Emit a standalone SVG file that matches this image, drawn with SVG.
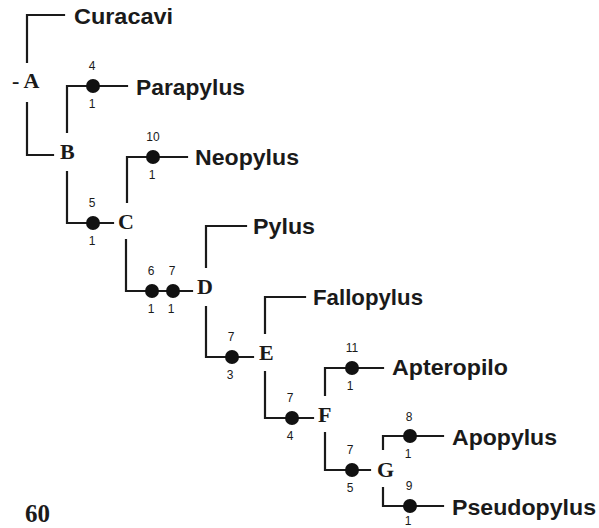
<svg xmlns="http://www.w3.org/2000/svg" width="599" height="528" viewBox="0 0 599 528">
  <style>
    .br { fill: none; stroke: #1a1a1a; stroke-width: 2.2; stroke-linecap: square; }
    .taxon { font-family: "Liberation Sans", Arial, sans-serif; font-weight: bold; font-size: 22px; fill: #1a1a1a; }
    .node { font-family: "Liberation Serif", "Times New Roman", serif; font-weight: bold; font-size: 22px; fill: #1a1a1a; }
    .num { font-family: "Liberation Sans", Arial, sans-serif; font-size: 12px; fill: #1a1a1a; text-anchor: middle; }
    .dot { fill: #111; }
    .page { font-family: "Liberation Serif", "Times New Roman", serif; font-weight: bold; font-size: 25px; fill: #1a1a1a; }
  </style>

  <!-- branches of the cladogram -->
  <g id="connectors">
    <path class="br" d="M27 62 V15 H64"/>
    <path class="br" d="M27 103 V155 H53"/>
    <path class="br" d="M67 132 V86 H127"/>
    <path class="br" d="M67 172 V223 H113"/>
    <path class="br" d="M127 202 V157 H187"/>
    <path class="br" d="M126 240 V291 H192"/>
    <path class="br" d="M206 267 V226 H246"/>
    <path class="br" d="M206 307 V357 H253"/>
    <path class="br" d="M265 333 V297 H305"/>
    <path class="br" d="M265 372 V418 H313"/>
    <path class="br" d="M325 395 V368 H383"/>
    <path class="br" d="M325 433 V470 H370"/>
    <path class="br" d="M383 449 V436 H443"/>
    <path class="br" d="M383 488 V506 H443"/>
  </g>

  <!-- character changes on branches: dot, character above, state below -->
  <g id="changes">
    <g id="chg-parapylus"><circle class="dot" cx="93" cy="86" r="7"/><text class="num" x="92" y="70">4</text><text class="num" x="92" y="108">1</text></g>
    <g id="chg-c"><circle class="dot" cx="93" cy="223" r="7"/><text class="num" x="92" y="207">5</text><text class="num" x="92" y="245">1</text></g>
    <g id="chg-neopylus"><circle class="dot" cx="153" cy="157" r="7"/><text class="num" x="153" y="141">10</text><text class="num" x="152" y="179">1</text></g>
    <g id="chg-d1"><circle class="dot" cx="152" cy="291" r="7"/><text class="num" x="151" y="275">6</text><text class="num" x="151" y="313">1</text></g>
    <g id="chg-d2"><circle class="dot" cx="173" cy="291" r="7"/><text class="num" x="172" y="275">7</text><text class="num" x="171" y="313">1</text></g>
    <g id="chg-e"><circle class="dot" cx="232" cy="357" r="7"/><text class="num" x="231" y="341">7</text><text class="num" x="230" y="379">3</text></g>
    <g id="chg-f"><circle class="dot" cx="292" cy="418" r="7"/><text class="num" x="290" y="402">7</text><text class="num" x="290" y="440">4</text></g>
    <g id="chg-apteropilo"><circle class="dot" cx="352" cy="368" r="7"/><text class="num" x="352" y="352">11</text><text class="num" x="350" y="390">1</text></g>
    <g id="chg-g"><circle class="dot" cx="352" cy="470" r="7"/><text class="num" x="350" y="454">7</text><text class="num" x="350" y="492">5</text></g>
    <g id="chg-apopylus"><circle class="dot" cx="410" cy="436" r="7"/><text class="num" x="409" y="421">8</text><text class="num" x="408" y="458">1</text></g>
    <g id="chg-pseudopylus"><circle class="dot" cx="410" cy="506" r="7"/><text class="num" x="409" y="490">9</text><text class="num" x="408" y="525">1</text></g>
  </g>

  <!-- internal nodes -->
  <g id="node-A"><text class="node" x="12" y="88">- A</text></g>
  <g id="node-B"><text class="node" x="60" y="159">B</text></g>
  <g id="node-C"><text class="node" x="118" y="229">C</text></g>
  <g id="node-D"><text class="node" x="197" y="294">D</text></g>
  <g id="node-E"><text class="node" x="259" y="360">E</text></g>
  <g id="node-F"><text class="node" x="318" y="422">F</text></g>
  <g id="node-G"><text class="node" x="377" y="477">G</text></g>

  <!-- terminal taxa -->
  <g id="taxon-curacavi"><text class="taxon" x="74" y="24" textLength="99" lengthAdjust="spacingAndGlyphs">Curacavi</text></g>
  <g id="taxon-parapylus"><text class="taxon" x="136" y="95" textLength="109" lengthAdjust="spacingAndGlyphs">Parapylus</text></g>
  <g id="taxon-neopylus"><text class="taxon" x="195" y="165" textLength="104" lengthAdjust="spacingAndGlyphs">Neopylus</text></g>
  <g id="taxon-pylus"><text class="taxon" x="253" y="234" textLength="62" lengthAdjust="spacingAndGlyphs">Pylus</text></g>
  <g id="taxon-fallopylus"><text class="taxon" x="313" y="305" textLength="110" lengthAdjust="spacingAndGlyphs">Fallopylus</text></g>
  <g id="taxon-apteropilo"><text class="taxon" x="392" y="375" textLength="116" lengthAdjust="spacingAndGlyphs">Apteropilo</text></g>
  <g id="taxon-apopylus"><text class="taxon" x="452" y="445" textLength="105" lengthAdjust="spacingAndGlyphs">Apopylus</text></g>
  <g id="taxon-pseudopylus"><text class="taxon" x="452" y="515" textLength="144" lengthAdjust="spacingAndGlyphs">Pseudopylus</text></g>

  <!-- page number -->
  <text class="page" x="25" y="522">60</text>
</svg>
